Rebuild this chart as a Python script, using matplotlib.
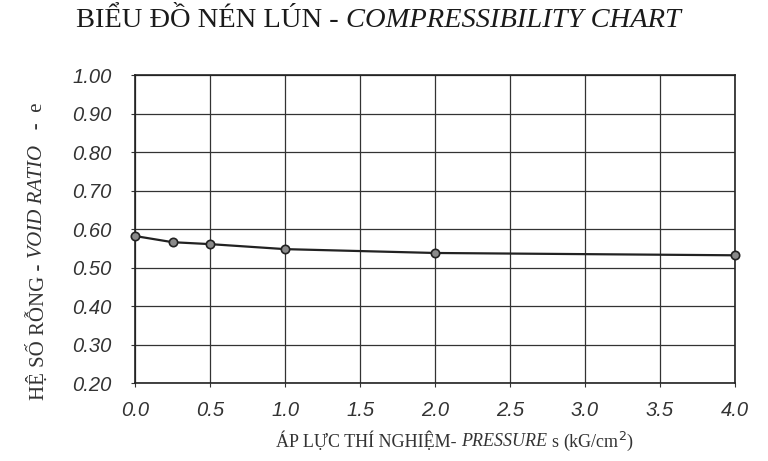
import matplotlib.pyplot as plt

# ap luc (kG/cm2) va he so rong
pressure = [0.0, 0.25, 0.5, 1.0, 2.0, 4.0]
void_ratio = [0.582, 0.566, 0.561, 0.548, 0.538, 0.532]

x_ticks = [0.0, 0.5, 1.0, 1.5, 2.0, 2.5, 3.0, 3.5, 4.0]
y_ticks = [0.20, 0.30, 0.40, 0.50, 0.60, 0.70, 0.80, 0.90, 1.00]

fig = plt.figure(figsize=(7.68, 4.61), dpi=100)
ax = fig.add_axes([0.176, 0.169, 0.781, 0.668])

ax.plot(pressure, void_ratio, color='#222222', lw=1.6, marker='o', ms=6,
        markerfacecolor='#8a8a8a', markeredgecolor='#222222', markeredgewidth=1.2,
        zorder=3, clip_on=False)

ax.set_xlim(0, 4)
ax.set_ylim(0.2, 1.0)
ax.set_xticks(x_ticks)
ax.set_yticks(y_ticks)
ax.set_xticklabels([f"{v:.1f}" for v in x_ticks], family='Liberation Sans',
                   style='italic', fontsize=14.5, color='#333333')
ax.set_yticklabels([f"{v:.2f}" for v in y_ticks], family='Liberation Sans',
                   style='italic', fontsize=14.5, color='#333333')
ax.tick_params(axis='y', length=3, color='#333333', pad=14)
ax.tick_params(axis='x', length=3, color='#333333', pad=10)
ax.grid(True, color='#333333', lw=0.9)
for side in ax.spines.values():
    side.set_color('#222222')
    side.set_linewidth(1.2)

renderer = fig.canvas.get_renderer()


def text_run(x, y, parts, size, rotation=0, color='#333333'):
    # dat cac doan chu noi tiep nhau (pixel)
    for s, style in parts:
        t = fig.text(x, y, s, family='Liberation Serif', fontsize=size, style=style,
                     color=color, rotation=rotation, ha='left', va='center',
                     transform=None, rotation_mode='anchor')
        bb = t.get_window_extent(renderer)
        if rotation:
            y += bb.height
        else:
            x += bb.width


H = 461
text_run(76, H - 20, [("BIỂU ĐỒ NÉN LÚN - ", 'normal'),
                      ("COMPRESSIBILITY CHART", 'italic')], 20.5, color='#1a1a1a')
text_run(276, H - 441, [("ÁP LỰC THÍ NGHIỆM- ", 'normal'), ("PRESSURE", 'italic'),
                        (" s (kG/cm$^2$)", 'normal')], 13)
text_run(38, H - 400, [("HỆ SỐ RỖNG - ", 'normal'), ("VOID RATIO", 'italic'),
                       ("   -  e", 'normal')], 15, rotation=90)

fig.savefig('out.png', dpi=100)
